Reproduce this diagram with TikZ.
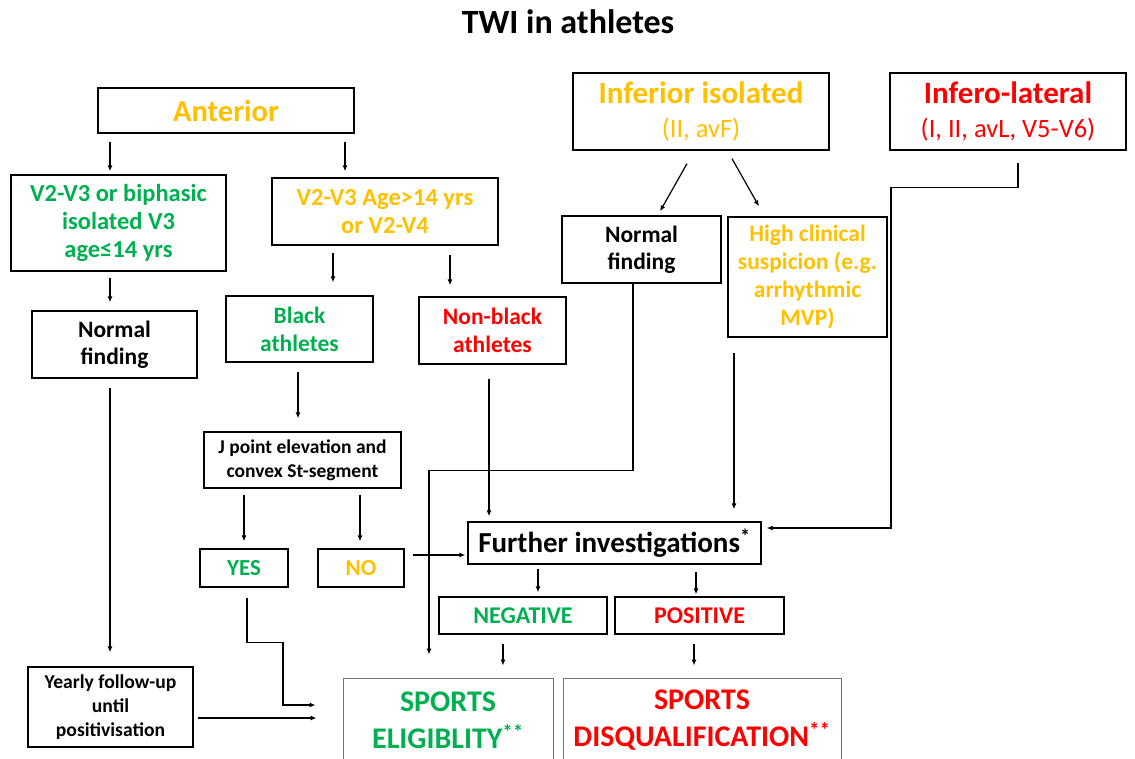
\documentclass[tikz,border=0pt]{standalone}
\usepackage{fontspec}
\setmainfont{Carlito}
\usetikzlibrary{arrows.meta,calc}
\definecolor{cor}{HTML}{FFC000}
\definecolor{cgr}{HTML}{00B050}
\definecolor{crd}{HTML}{FF0000}
\newcommand{\fsz}[2]{\fontsize{#1}{#2}\selectfont}
\begin{document}
\begin{tikzpicture}[x=1pt,y=-1pt,
  bx/.style={draw=black, line width=1.3pt, inner sep=0pt, align=center},
  ebx/.style={draw=black!55, line width=0.9pt, inner sep=0pt, align=center},
  con/.style={line width=1.2pt, -{Latex[length=6pt,width=5pt]}},
  ln/.style={line width=1.2pt}]
\useasboundingbox (0,0) rectangle (1135,758);
\clip (0,0) rectangle (1135,758);

\node[font=\bfseries\fsz{34}{40}] (title) at (568,22) {TWI in athletes};

\node[bx, minimum width=256, minimum height=45, text=cor, font=\bfseries\fsz{30.5}{34}] (ant) at (226,110.5) {Anterior};
\node[bx, minimum width=215, minimum height=96, text=cgr, font=\bfseries\fsz{24.5}{28}] (bip) at (118.5,223) {V2-V3 or biphasic\\isolated V3\\age≤14 yrs};
\node[bx, minimum width=226, minimum height=67, text=cor, font=\bfseries\fsz{24.5}{28}] (age) at (385,211.5) {V2-V3 Age>14 yrs\\or V2-V4};
\node[bx, minimum width=165, minimum height=67, font=\bfseries\fsz{23.5}{27}] (nfa) at (114.5,344.5) {Normal\\finding};
\node[bx, minimum width=147, minimum height=66, text=cgr, font=\bfseries\fsz{23.5}{28}] (blk) at (299.5,329) {Black\\athletes};
\node[bx, minimum width=147, minimum height=67, text=crd, font=\bfseries\fsz{23.5}{28}] (nbl) at (492.5,330.5) {Non-black\\athletes};
\node[bx, minimum width=256, minimum height=77, text=cor, font=\fsz{26.5}{34}] (inf) at (701,111.5) {{\bfseries\fontsize{31}{34}\selectfont Inferior isolated}\\(II, avF)};
\node[bx, minimum width=236, minimum height=77, text=crd, font=\fsz{26.5}{34}] (ifl) at (1008,111.5) {{\bfseries\fontsize{31}{34}\selectfont Infero-lateral}\\(I, II, avL, V5-V6)};
\node[bx, minimum width=159, minimum height=67, font=\bfseries\fsz{23.5}{27}] (nfb) at (641.5,249.5) {Normal\\finding};
\node[bx, minimum width=159, minimum height=120, text=cor, font=\bfseries\fsz{23.5}{28}] (hcs) at (807.5,277) {High clinical\\suspicion (e.g.\\arrhythmic\\MVP)};
\node[bx, minimum width=197, minimum height=56, font=\bfseries\fsz{19.5}{24}] (jpt) at (302.5,460) {J point elevation and\\convex St-segment};
\node[bx, minimum width=88, minimum height=38, text=cgr, font=\bfseries\fsz{23}{28}] (yes) at (244,568) {YES};
\node[bx, minimum width=86, minimum height=38, text=cor, font=\bfseries\fsz{23}{28}] (no) at (361,568) {NO};
\node[bx, minimum width=293, minimum height=42, font=\bfseries\fsz{29}{32}] (fur) at (614.5,543) {Further investigations\textsuperscript{*}};
\node[bx, minimum width=168, minimum height=37, text=cgr, font=\bfseries\fsz{24}{28}] (neg) at (523,615.5) {NEGATIVE};
\node[bx, minimum width=169, minimum height=37, text=crd, font=\bfseries\fsz{24}{28}] (pos) at (699.5,615.5) {POSITIVE};
\node[bx, minimum width=165, minimum height=80, font=\bfseries\fsz{19.6}{24}] (yrl) at (110.5,707) {Yearly follow-up\\until\\positivisation};
\node[ebx, minimum width=210, minimum height=84, text=cgr, font=\bfseries\fsz{30}{37}] (spe) at (448,720) {SPORTS\\ELIGIBLITY\textsuperscript{**}};
\node[ebx, minimum width=278, minimum height=84, text=crd, font=\bfseries\fsz{30}{37}] (spd) at (702,720) {SPORTS\\DISQUALIFICATION\textsuperscript{**}};

% connectors
\draw[con] ([xshift=-116pt,yshift=-8pt]ant.south) -- ([xshift=-8.5pt,yshift=3pt]bip.north);
\draw[con] ([xshift=119pt,yshift=-8pt]ant.south) -- ([xshift=-40pt,yshift=6pt]age.north);
\draw[con] ([xshift=-8.5pt,yshift=-6pt]bip.south) -- ([xshift=-4.5pt,yshift=8pt]nfa.north);
\draw[con] ([xshift=-52pt,yshift=-7pt]age.south) -- ([xshift=33.5pt,yshift=13pt]blk.north);
\draw[con] ([xshift=65pt,yshift=-9pt]age.south) -- ([xshift=-42.5pt,yshift=11pt]nbl.north);
\draw[con] ([xshift=-1.5pt,yshift=-9pt]blk.south) -- ([xshift=-4.5pt,yshift=13pt]jpt.north);
\draw[con] ([xshift=-58.5pt,yshift=-6pt]jpt.south) -- ([yshift=7pt]yes.north);
\draw[con] ([xshift=57.5pt,yshift=-6pt]jpt.south) -- ([xshift=-1pt,yshift=7pt]no.north);
\draw[con] ([xshift=8pt,yshift=13pt]no.east) -- ([xshift=-2pt,yshift=-12pt]fur.west);
\draw[con] ([xshift=-3.5pt,yshift=-14pt]nbl.south) -- ([xshift=-125.5pt,yshift=5pt]fur.north);
\draw[con] ([xshift=-14pt,yshift=-13pt]inf.south) -- ([xshift=18.5pt,yshift=4pt]nfb.north);
\draw[con] ([xshift=31pt,yshift=-8pt]inf.south) -- ([xshift=-48.5pt,yshift=10pt]hcs.north);
\draw[con] ([xshift=-73.5pt,yshift=-15pt]hcs.south) -- ([xshift=119.5pt,yshift=12pt]fur.north);
\draw[con] ([xshift=10pt,yshift=-12pt]ifl.south) -- ++(0,25) -- ++(-127,0) |- ([xshift=5pt,yshift=15pt]fur.east);
\draw[con] ([xshift=-8.5pt]nfb.south) -- ++(0,187) -- ++(-204,0) -- ([xshift=-19pt,yshift=23pt]spe.north);
\draw[con] ([xshift=-76.5pt,yshift=-4pt]fur.south) -- ([xshift=15pt,yshift=4pt]neg.north);
\draw[con] ([xshift=81.5pt,yshift=-7pt]fur.south) -- ([xshift=-3.5pt,yshift=2pt]pos.north);
\draw[con] ([xshift=-20pt,yshift=-9pt]neg.south) -- ([xshift=55pt,yshift=12pt]spe.north);
\draw[con] ([xshift=-5.5pt,yshift=-9pt]pos.south) -- ([xshift=-8pt,yshift=12pt]spd.north);
\draw[con] ([xshift=-4.5pt,yshift=-9pt]nfa.south) -- ([xshift=-0.5pt,yshift=14pt]yrl.north);
\draw[con] ([xshift=3pt,yshift=-10pt]yes.south) -- ++(0,45) -- ++(36,0) |- ([xshift=-27pt,yshift=15pt]spe.west);
\draw[con] ([xshift=4pt,yshift=-11pt]yrl.east) -- ([xshift=-26pt,yshift=2pt]spe.west);
\end{tikzpicture}
\end{document}
